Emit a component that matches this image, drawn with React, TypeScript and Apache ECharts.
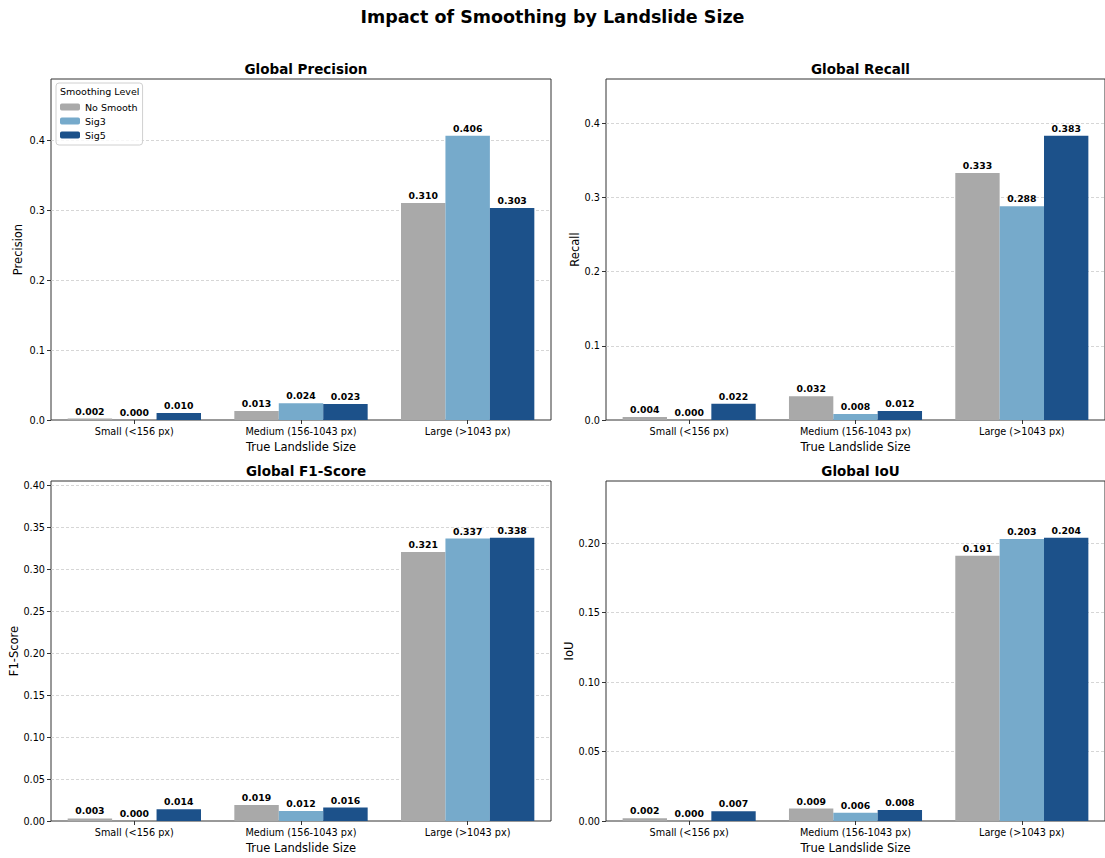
import React, { useEffect, useRef } from "react";
import * as echarts from "echarts";

const categories = ["Small (<156 px)", "Medium (156-1043 px)", "Large (>1043 px)"];
const seriesNames = ["No Smooth", "Sig3", "Sig5"];
const colors = ["#a9a9a9", "#76aacb", "#1c518a"];

const precisionNoSmooth = [0.002, 0.013, 0.31];
const precisionSig3 = [0.0, 0.024, 0.406];
const precisionSig5 = [0.01, 0.023, 0.303];

const recallNoSmooth = [0.004, 0.032, 0.333];
const recallSig3 = [0.0, 0.008, 0.288];
const recallSig5 = [0.022, 0.012, 0.383];

const f1NoSmooth = [0.003, 0.019, 0.321];
const f1Sig3 = [0.0, 0.012, 0.337];
const f1Sig5 = [0.014, 0.016, 0.338];

const iouNoSmooth = [0.002, 0.009, 0.191];
const iouSig3 = [0.0, 0.006, 0.203];
const iouSig5 = [0.007, 0.008, 0.204];

const panels = [
  { title: "Global Precision", yName: "Precision", data: [precisionNoSmooth, precisionSig3, precisionSig5], interval: 0.1, digits: 1, nameGap: 27 },
  { title: "Global Recall", yName: "Recall", data: [recallNoSmooth, recallSig3, recallSig5], interval: 0.1, digits: 1, nameGap: 25 },
  { title: "Global F1-Score", yName: "F1-Score", data: [f1NoSmooth, f1Sig3, f1Sig5], interval: 0.05, digits: 2, nameGap: 31 },
  { title: "Global IoU", yName: "IoU", data: [iouNoSmooth, iouSig3, iouSig5], interval: 0.05, digits: 2, nameGap: 31 },
];

const FONT = "DejaVu Sans";

export default function App() {
  const ref = useRef<HTMLDivElement>(null);
  useEffect(() => {
    if (!ref.current) return;
    const chart = echarts.init(ref.current, undefined, { renderer: "svg" });
    const grids = [
      { left: 51, top: 79, width: 500, height: 341 },
      { left: 606, top: 79, width: 499, height: 341 },
      { left: 51, top: 481, width: 500, height: 340 },
      { left: 606, top: 481, width: 499, height: 340 },
    ];
    const xAxes: any[] = [];
    const yAxes: any[] = [];
    const series: any[] = [];
    const titles: any[] = [
      {
        text: "Impact of Smoothing by Landslide Size",
        left: "center",
        top: 3,
        textStyle: { fontFamily: FONT, fontSize: 17.5, fontWeight: "bold", color: "#000" },
      },
    ];
    panels.forEach((p, i) => {
      const g = grids[i];
      titles.push({
        text: p.title,
        left: g.left + g.width / 2,
        textAlign: "center",
        top: g.top - 22,
        textStyle: { fontFamily: FONT, fontSize: 13.5, fontWeight: "bold", color: "#000" },
      });
      let maxV = 0;
      p.data.forEach((arr) => arr.forEach((v) => (maxV = Math.max(maxV, v))));
      xAxes.push({
        type: "category",
        gridIndex: i,
        data: categories,
        name: "True Landslide Size",
        nameLocation: "middle",
        nameGap: 21,
        nameTextStyle: { fontFamily: FONT, fontSize: 11.5, color: "#000" },
        axisLine: { show: false },
        axisTick: { show: true, alignWithLabel: true, length: 4, lineStyle: { color: "#333" } },
        axisLabel: { fontFamily: FONT, fontSize: 9.7, color: "#000", margin: 6 },
        splitLine: { show: false },
      });
      yAxes.push({
        type: "value",
        gridIndex: i,
        min: 0,
        max: maxV * 1.2,
        interval: p.interval,
        name: p.yName,
        nameLocation: "middle",
        nameGap: p.nameGap,
        nameTextStyle: { fontFamily: FONT, fontSize: 11.5, color: "#000" },
        axisLine: { show: false },
        axisTick: { show: true, length: 4, lineStyle: { color: "#333" } },
        axisLabel: {
          fontFamily: FONT,
          fontSize: 9.7,
          color: "#000",
          margin: 6,
          showMaxLabel: false,
          formatter: (v: number) => v.toFixed(p.digits),
        },
        splitLine: {
          show: true,
          showMinLine: false,
          showMaxLine: false,
          lineStyle: { color: "#cccccc", type: [3, 2], width: 0.8 },
        },
      });
      p.data.forEach((arr, s) => {
        series.push({
          type: "bar",
          name: seriesNames[s],
          xAxisIndex: i,
          yAxisIndex: i,
          data: arr,
          barGap: "0%",
          barCategoryGap: "20%",
          itemStyle: { color: colors[s], borderWidth: 0 },
          label: {
            show: true,
            position: "top",
            distance: 3,
            fontFamily: FONT,
            fontSize: 9.3,
            fontWeight: "bold",
            color: "#000",
            formatter: (d: any) => Number(d.value).toFixed(3),
          },
        });
      });
    });
    chart.setOption({
      animation: false,
      backgroundColor: "#fff",
      title: titles,
      grid: grids.map((g) => ({ ...g, show: true, borderColor: "#333", borderWidth: 1, backgroundColor: "transparent" })),
      xAxis: xAxes,
      yAxis: yAxes,
      series,
      legend: {
        left: 56,
        top: 83,
        orient: "vertical",
        data: seriesNames,
        itemWidth: 20,
        itemHeight: 7,
        itemGap: 4,
        padding: [19, 5, 5, 4],
        borderColor: "#d0d0d0",
        borderWidth: 1,
        borderRadius: 3,
        backgroundColor: "rgba(255,255,255,0.8)",
        selectedMode: false,
        textStyle: { fontFamily: FONT, fontSize: 9.5, color: "#000" },
        itemStyle: { borderWidth: 0 },
      },
      graphic: [
        {
          type: "text",
          left: 60,
          top: 86,
          z: 100,
          style: { text: "Smoothing Level", fontFamily: FONT, fontSize: 9.5, fill: "#000" },
        },
      ],
    });
    return () => chart.dispose();
  }, []);
  return <div ref={ref} style={{ position: "fixed", left: 0, top: 0, width: 1105, height: 858 }} />;
}
